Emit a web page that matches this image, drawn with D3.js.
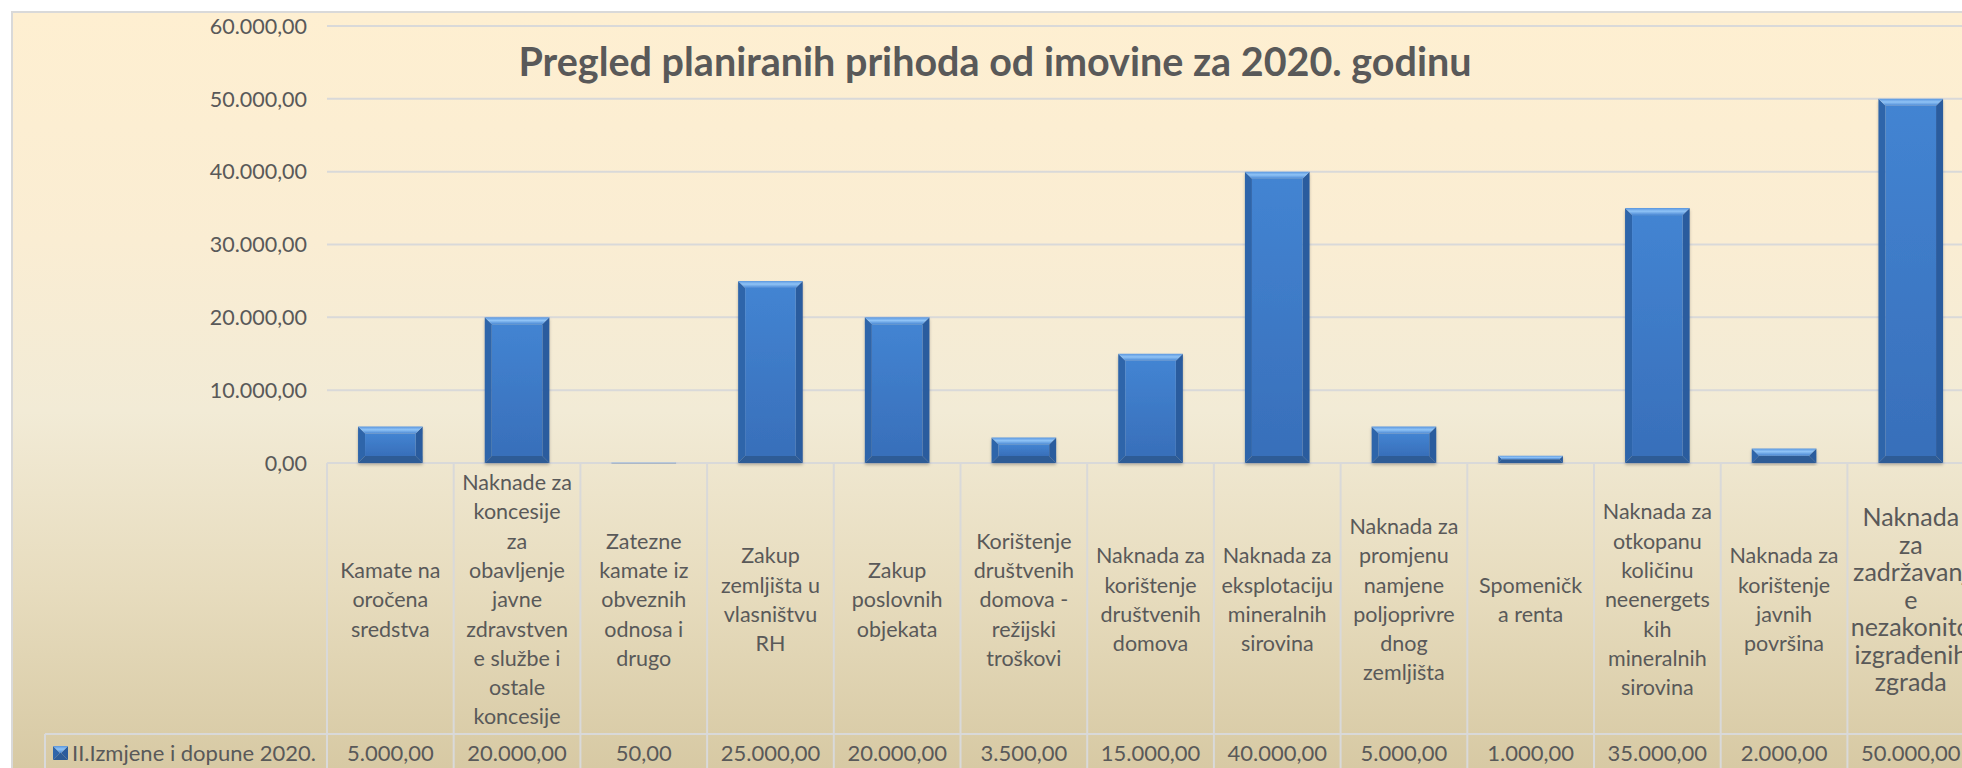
<!DOCTYPE html>
<html>
<head>
<meta charset="utf-8">
<script src="https://cdn.jsdelivr.net/npm/d3@7"></script>
<style>
body{margin:0;background:#fff;overflow:hidden}
text{font-family:Lato,"Open Sans",sans-serif;fill:#595959}
</style>
</head>
<body>
<svg id="chart" width="1962" height="768"></svg>
<script>
var title="Pregled planiranih prihoda od imovine za 2020. godinu";
var seriesName="II.Izmjene i dopune 2020.";
// category labels, already broken into lines as in the table
var categories=[
    ["Kamate na","oročena","sredstva"],
    ["Naknade za","koncesije","za","obavljenje","javne","zdravstven","e službe i","ostale","koncesije"],
    ["Zatezne","kamate iz","obveznih","odnosa i","drugo"],
    ["Zakup","zemljišta u","vlasništvu","RH"],
    ["Zakup","poslovnih","objekata"],
    ["Korištenje","društvenih","domova -","režijski","troškovi"],
    ["Naknada za","korištenje","društvenih","domova"],
    ["Naknada za","eksplotaciju","mineralnih","sirovina"],
    ["Naknada za","promjenu","namjene","poljoprivre","dnog","zemljišta"],
    ["Spomeničk","a renta"],
    ["Naknada za","otkopanu","količinu","neenergets","kih","mineralnih","sirovina"],
    ["Naknada za","korištenje","javnih","površina"],
    ["Naknada","za","zadržavanj","e","nezakonito","izgrađenih","zgrada"]
];
var values=[5000,20000,50,25000,20000,3500,15000,40000,5000,1000,35000,2000,50000];
var yTicks=[0,10000,20000,30000,40000,50000,60000];

var svg=d3.select("#chart");
var W=1962,H=768;
var plotLeft=327, step=126.7, plotTop=26, zero=463, tableRow=734;

var loc=d3.formatLocale({decimal:",",thousands:".",grouping:[3],currency:["",""]});
var fmt=loc.format(",.2f");

var idx=d3.range(categories.length);
var x=d3.scaleBand().domain(idx).range([plotLeft,plotLeft+step*idx.length]).paddingInner(0.49).paddingOuter(0.245);
var col=d3.scaleBand().domain(idx).range([plotLeft,plotLeft+step*idx.length]);
var y=d3.scaleLinear().domain([0,60000]).range([zero,plotTop]);

var defs=svg.append("defs");
var bg=defs.append("linearGradient").attr("id","bg").attr("x1",0).attr("y1",0).attr("x2",0).attr("y2",1);
[[0,"#feefd1"],[0.3,"#faedd3"],[0.52,"#f2ebd6"],[0.75,"#e7dcbe"],[1,"#d6c8a2"]].forEach(function(s){
    bg.append("stop").attr("offset",s[0]).attr("stop-color",s[1]);
});
var face=defs.append("linearGradient").attr("id","face").attr("x1",0).attr("y1",0).attr("x2",0).attr("y2",1);
face.append("stop").attr("offset",0).attr("stop-color","#4384d2");
face.append("stop").attr("offset",1).attr("stop-color","#386fba");
var topG=defs.append("linearGradient").attr("id","topbev").attr("x1",0).attr("y1",0).attr("x2",0).attr("y2",1);
topG.append("stop").attr("offset",0).attr("stop-color","#5a96de");
topG.append("stop").attr("offset",0.45).attr("stop-color","#8fc3f6");
topG.append("stop").attr("offset",1).attr("stop-color","#4a88d4");
var sh=defs.append("filter").attr("id","shadow").attr("x","-10%").attr("y","-10%").attr("width","120%").attr("height","130%");
sh.append("feDropShadow").attr("dx",0).attr("dy",2).attr("stdDeviation",1.5).attr("flood-color","#000").attr("flood-opacity",0.25);

// chart area
svg.append("rect").attr("x",12).attr("y",12).attr("width",W).attr("height",H)
    .attr("fill","url(#bg)").attr("stroke","#d9d9d9").attr("stroke-width",2);

// gridlines
svg.append("g").selectAll("line").data(yTicks).join("line")
    .attr("x1",plotLeft).attr("x2",W+20)
    .attr("y1",function(d){return y(d);}).attr("y2",function(d){return y(d);})
    .attr("stroke","#d9d9d9").attr("stroke-width",2);

// y labels
svg.append("g").selectAll("text").data(yTicks).join("text")
    .attr("x",307).attr("y",function(d){return y(d);}).attr("dy","0.36em")
    .attr("text-anchor","end").style("font-size","21.5px")
    .text(function(d){return fmt(d);});

// title
svg.append("text").attr("x",995).attr("y",76).attr("text-anchor","middle")
    .style("font-size","39.5px").style("font-weight","bold").text(title);

// beveled bar
function bevelBar(g,x0,y0,w,h){
    var b=Math.min(7,h/2,w/2);
    g.append("polygon").attr("points",[[x0,y0],[x0+b,y0+b],[x0+b,y0+h-b],[x0,y0+h]].join(" ")).attr("fill","#2f65aa");
    g.append("polygon").attr("points",[[x0+w,y0],[x0+w-b,y0+b],[x0+w-b,y0+h-b],[x0+w,y0+h]].join(" ")).attr("fill","#2b5c9e");
    g.append("polygon").attr("points",[[x0,y0+h],[x0+b,y0+h-b],[x0+w-b,y0+h-b],[x0+w,y0+h]].join(" ")).attr("fill","#2d5b96");
    if(h-2*b>0) g.append("rect").attr("x",x0+b).attr("y",y0+b).attr("width",w-2*b).attr("height",h-2*b).attr("fill","url(#face)");
    g.append("polygon").attr("points",[[x0,y0],[x0+w,y0],[x0+w-b,y0+b],[x0+b,y0+b]].join(" ")).attr("fill","url(#topbev)");
}

var bars=svg.append("g");
values.forEach(function(v,i){
    var g=bars.append("g").attr("filter","url(#shadow)");
    var y0=y(v), h=y(0)-y0;
    bevelBar(g,x(i),y0,x.bandwidth(),Math.max(h,0.6));
});

// data table
var table=svg.append("g");
var lineCol="#d9d9d9";
table.append("line").attr("x1",45).attr("x2",W+20).attr("y1",tableRow).attr("y2",tableRow)
    .attr("stroke",lineCol).attr("stroke-width",2);
table.append("line").attr("x1",45).attr("x2",45).attr("y1",tableRow).attr("y2",H)
    .attr("stroke",lineCol).attr("stroke-width",2);
table.selectAll("line.v").data(d3.range(categories.length+1)).join("line").attr("class","v")
    .attr("x1",function(d){return plotLeft+d*col.step();}).attr("x2",function(d){return plotLeft+d*col.step();})
    .attr("y1",zero).attr("y2",H)
    .attr("stroke",lineCol).attr("stroke-width",2);

// category labels
categories.forEach(function(lines,i){
    var last=(i===categories.length-1);
    var fs=last?25:21.5, lh=last?27.5:29.3;
    var cx=col(i)+col.bandwidth()/2, cy=(zero+tableRow)/2+1;
    var t=table.append("text").attr("text-anchor","middle").style("font-size",fs+"px");
    lines.forEach(function(s,k){
        t.append("tspan").attr("x",cx).attr("y",cy+(k-(lines.length-1)/2)*lh).attr("dy","0.36em").text(s);
    });
});

// values row
table.selectAll("text.val").data(values).join("text").attr("class","val")
    .attr("x",function(d,i){return col(i)+col.bandwidth()/2;}).attr("y",761)
    .attr("text-anchor","middle").style("font-size","22px")
    .text(function(d){return fmt(d);});

// legend key + series name
var key=table.append("g");
bevelBar(key,53,746,15,14);
table.append("text").attr("x",72).attr("y",761).style("font-size","22px").text(seriesName);
</script>
</body>
</html>
